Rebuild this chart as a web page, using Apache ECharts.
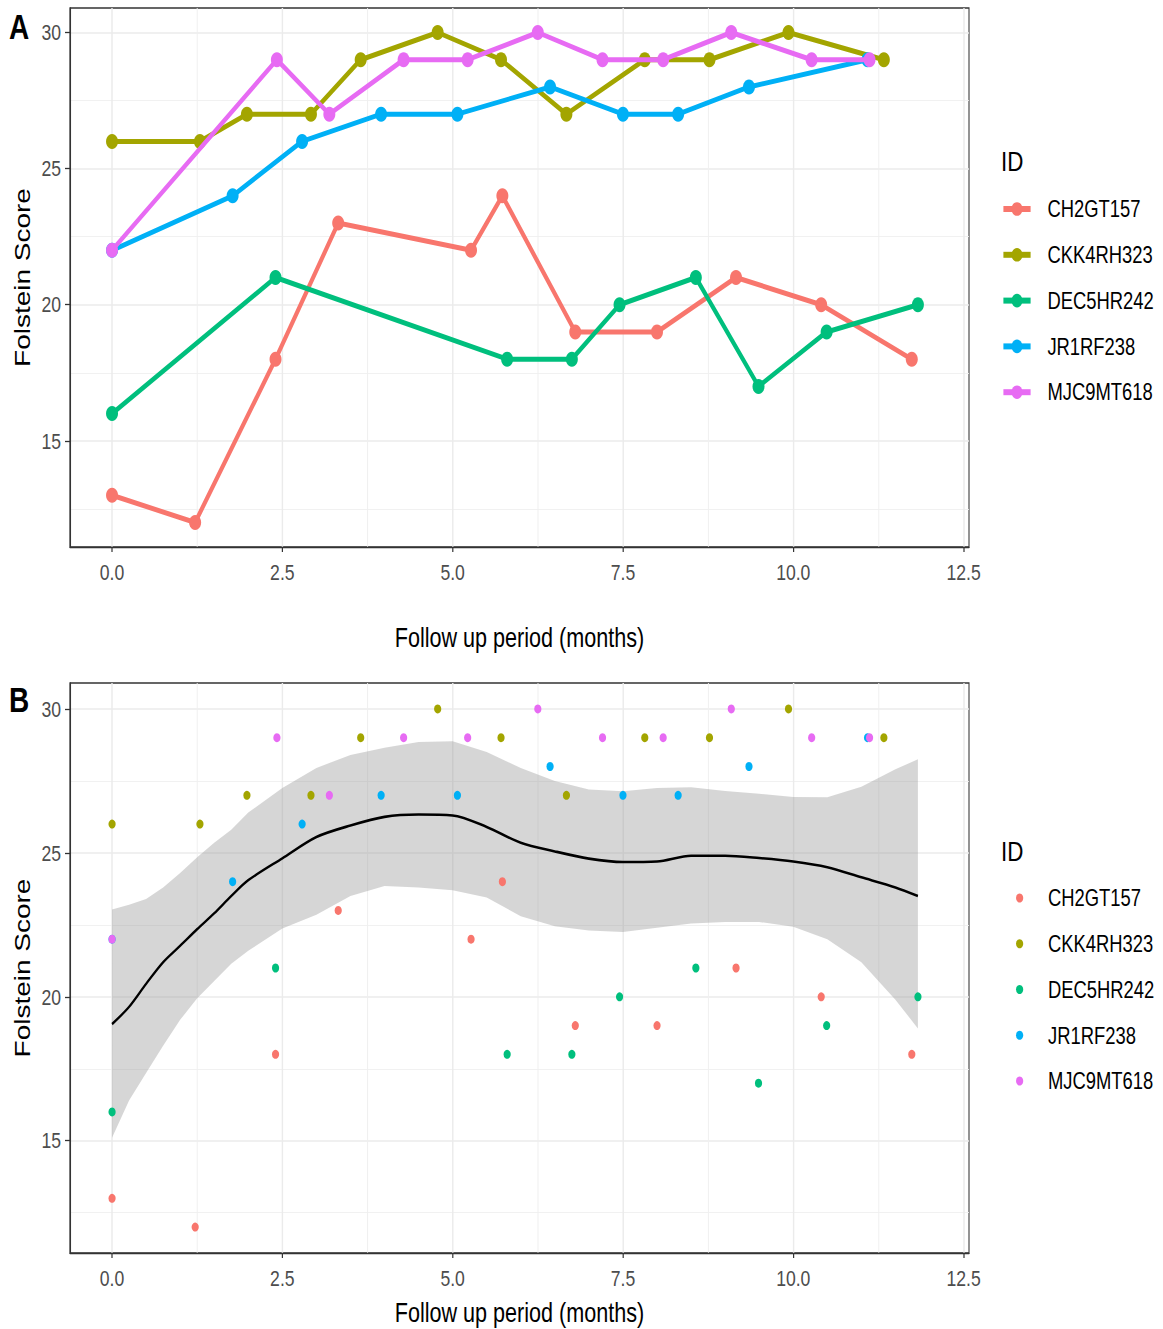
<!DOCTYPE html>
<html>
<head>
<meta charset="utf-8">
<script src="https://cdn.jsdelivr.net/npm/echarts@6/dist/echarts.min.js"></script>
<style>
  html, body { margin: 0; padding: 0; background: #ffffff; overflow: hidden; }
  #wrap { width: 1163px; height: 1329px; overflow: hidden; position: relative; }
  #chart { width: 1454px; height: 1329px; transform: scaleX(0.8); transform-origin: 0 0; position: absolute; left: 0; top: 0; }
</style>
</head>
<body>
<div id="wrap"><div id="chart"></div></div>
<script>
// ---------------- DATA ----------------
const IDS = ['CH2GT157', 'CKK4RH323', 'DEC5HR242', 'JR1RF238', 'MJC9MT618'];

const CH2GT157_MONTHS = [0, 1.22, 2.40, 3.32, 5.27, 5.73, 6.80, 8.00, 9.16, 10.41, 11.74];
const CH2GT157_SCORE  = [13, 12, 18, 23, 22, 24, 19, 19, 21, 20, 18];

const CKK4RH323_MONTHS = [0, 1.29, 1.98, 2.92, 3.65, 4.78, 5.71, 6.67, 7.82, 8.77, 9.93, 11.33];
const CKK4RH323_SCORE  = [26, 26, 27, 27, 29, 30, 29, 27, 29, 29, 30, 29];

const DEC5HR242_MONTHS = [0, 2.40, 5.80, 6.75, 7.45, 8.57, 9.49, 10.49, 11.83];
const DEC5HR242_SCORE  = [16, 21, 18, 18, 20, 21, 17, 19, 20];

const JR1RF238_MONTHS = [0, 1.77, 2.79, 3.95, 5.07, 6.43, 7.50, 8.31, 9.35, 11.09];
const JR1RF238_SCORE  = [22, 24, 26, 27, 27, 28, 27, 27, 28, 29];

const MJC9MT618_MONTHS = [0, 2.42, 3.19, 4.28, 5.22, 6.25, 7.20, 8.09, 9.09, 10.27, 11.12];
const MJC9MT618_SCORE  = [22, 29, 27, 29, 29, 30, 29, 29, 30, 29, 29];

// LOESS fit with confidence band
const SMOOTH_MONTHS = [0, 0.25, 0.5, 0.75, 1.0, 1.25, 1.5, 1.75, 2.0, 2.5, 3.0, 3.5, 4.0, 4.5, 5.0, 5.5, 6.0, 6.5, 7.0, 7.5, 8.0, 8.5, 9.0, 9.5, 10.0, 10.5, 11.0, 11.5, 11.83];
const SMOOTH_FIT   = [19.05, 19.65, 20.45, 21.2, 21.77, 22.35, 22.9, 23.5, 24.05, 24.81, 25.55, 25.95, 26.25, 26.33, 26.3, 25.9, 25.35, 25.05, 24.8, 24.68, 24.7, 24.9, 24.9, 24.82, 24.7, 24.5, 24.15, 23.8, 23.5];
const SMOOTH_UPPER = [23.03, 23.2, 23.4, 23.8, 24.3, 24.85, 25.35, 25.8, 26.4, 27.25, 27.95, 28.4, 28.65, 28.85, 28.88, 28.5, 27.95, 27.5, 27.2, 27.14, 27.25, 27.28, 27.15, 27.05, 26.94, 26.93, 27.3, 27.9, 28.25];
const SMOOTH_LOWER = [15.1, 16.4, 17.35, 18.3, 19.2, 19.95, 20.55, 21.15, 21.6, 22.37, 22.85, 23.5, 23.85, 23.8, 23.7, 23.45, 22.8, 22.45, 22.3, 22.25, 22.4, 22.55, 22.6, 22.6, 22.43, 22.0, 21.2, 19.9, 18.9];

const X_TICKS = [0, 2.5, 5, 7.5, 10, 12.5];
const X_MINOR = [1.25, 3.75, 6.25, 8.75, 11.25];
const Y_TICKS = [15, 20, 25, 30];
const Y_MINOR = [12.5, 17.5, 22.5, 27.5];

const X_TITLE = 'Follow up period (months)';
const Y_TITLE = 'Folstein Score';
const LEGEND_TITLE = 'ID';
const PANEL_TAGS = ['A', 'B'];

// ---------------- STYLE / LAYOUT ----------------
const COLORS = ['#F8766D', '#A3A500', '#00BF7D', '#00B0F6', '#E76BF3'];
const FONT = '"Liberation Sans", Arial, sans-serif';
const SQ = 0.8;                 // horizontal squeeze applied to the whole chart by CSS
const hx = v => v / SQ;         // reference horizontal pixels -> internal pixels
const XMIN = -0.617, XMAX = 12.58, YMIN = 11.1, YMAX = 30.9;

const SERIES_DATA = {
  CH2GT157: [CH2GT157_MONTHS, CH2GT157_SCORE],
  CKK4RH323: [CKK4RH323_MONTHS, CKK4RH323_SCORE],
  DEC5HR242: [DEC5HR242_MONTHS, DEC5HR242_SCORE],
  JR1RF238: [JR1RF238_MONTHS, JR1RF238_SCORE],
  MJC9MT618: [MJC9MT618_MONTHS, MJC9MT618_SCORE]
};
function pairs(xs, ys) { return xs.map((x, i) => [x, ys[i]]); }

const grids = [
  { left: hx(70), top: 8, width: hx(899), height: 539 },
  { left: hx(70), top: 683, width: hx(899), height: 570 }
].map(g => Object.assign(g, {
  show: true, borderColor: '#333333', borderWidth: 1.3, backgroundColor: 'transparent',
  containLabel: false, outerBoundsMode: 'none'
}));

function majorX(gi, nameGap) {
  return {
    type: 'value', gridIndex: gi, min: XMIN, max: XMAX, position: 'bottom',
    name: X_TITLE, nameLocation: 'middle', nameGap: nameGap, nameMoveOverlap: false,
    nameTextStyle: { fontFamily: FONT, fontSize: 27, color: '#000000' },
    axisLine: { show: true, onZero: false, lineStyle: { color: '#333333', width: 1.3 } },
    axisTick: { show: true, length: 5, customValues: X_TICKS, lineStyle: { color: '#333333', width: 1.5 } },
    axisLabel: { show: true, customValues: X_TICKS, margin: 14, fontFamily: FONT, fontSize: 22, color: '#4d4d4d',
      formatter: v => Number(v).toFixed(1) },
    splitLine: { show: true, lineStyle: { color: '#ebebeb', width: 1.8 } },
    minorTick: { show: false }, minorSplitLine: { show: false }
  };
}
function minorX(gi) {
  return {
    type: 'value', gridIndex: gi, min: XMIN, max: XMAX, position: 'top',
    axisLine: { show: false }, axisLabel: { show: false },
    axisTick: { show: false, customValues: X_MINOR },
    splitLine: { show: true, lineStyle: { color: '#efefef', width: 1.2 } }
  };
}
function majorY(gi) {
  return {
    type: 'value', gridIndex: gi, min: YMIN, max: YMAX, position: 'left',
    name: Y_TITLE, nameLocation: 'middle', nameGap: hx(37), nameMoveOverlap: false,
    nameTextStyle: { fontFamily: FONT, fontSize: 28, color: '#000000' },
    axisLine: { show: true, onZero: false, lineStyle: { color: '#333333', width: 1.6 } },
    axisTick: { show: true, length: hx(5), customValues: Y_TICKS, lineStyle: { color: '#333333', width: 1.3 } },
    axisLabel: { show: true, customValues: Y_TICKS, margin: hx(9), fontFamily: FONT, fontSize: 22, color: '#4d4d4d' },
    splitLine: { show: true, lineStyle: { color: '#ebebeb', width: 1.5 } },
    minorTick: { show: false }, minorSplitLine: { show: false }
  };
}
function minorY(gi) {
  return {
    type: 'value', gridIndex: gi, min: YMIN, max: YMAX, position: 'right',
    axisLine: { show: false }, axisLabel: { show: false },
    axisTick: { show: false, customValues: Y_MINOR },
    splitLine: { show: true, lineStyle: { color: '#efefef', width: 1 } }
  };
}

const series = [];
// Panel A: lines with points
IDS.forEach((id, k) => {
  const [xs, ys] = SERIES_DATA[id];
  series.push({
    name: id, type: 'line', xAxisIndex: 0, yAxisIndex: 0,
    data: pairs(xs, ys), symbol: 'circle', symbolSize: 15, showSymbol: true,
    color: COLORS[k], lineStyle: { width: 5, color: COLORS[k] }, itemStyle: { color: COLORS[k] },
    z: 3 + k, silent: true
  });
});
// Panel B: confidence band
series.push({
  name: 'band', type: 'custom', xAxisIndex: 2, yAxisIndex: 2,
  data: [[SMOOTH_MONTHS[0], SMOOTH_FIT[0]]], z: 2, silent: true,
  renderItem: function (params, api) {
    const pts = [];
    for (let i = 0; i < SMOOTH_MONTHS.length; i++) pts.push(api.coord([SMOOTH_MONTHS[i], SMOOTH_UPPER[i]]));
    for (let i = SMOOTH_MONTHS.length - 1; i >= 0; i--) pts.push(api.coord([SMOOTH_MONTHS[i], SMOOTH_LOWER[i]]));
    return { type: 'polygon', shape: { points: pts }, style: { fill: 'rgba(153,153,153,0.4)' } };
  }
});
// Panel B: fit line
series.push({
  name: 'loess', type: 'line', xAxisIndex: 2, yAxisIndex: 2,
  data: pairs(SMOOTH_MONTHS, SMOOTH_FIT), smooth: 0.3, symbol: 'none',
  lineStyle: { color: '#000000', width: 2.6 }, z: 3, silent: true
});
// Panel B: points
IDS.forEach((id, k) => {
  const [xs, ys] = SERIES_DATA[id];
  series.push({
    name: id, type: 'scatter', xAxisIndex: 2, yAxisIndex: 2,
    data: pairs(xs, ys), symbol: 'circle', symbolSize: 9,
    itemStyle: { color: COLORS[k], opacity: 1 }, z: 4 + k, silent: true
  });
});

const PAD_A = hx(1048) - hx(1004) - 34 - 5;
const textA = { fontFamily: FONT, fontSize: 23, color: '#000000', lineHeight: 24, padding: [0, 0, 0, PAD_A] };
const textB = { fontFamily: FONT, fontSize: 23, color: '#000000', lineHeight: 24, padding: [0, 0, 0, PAD_A - 2.5] };

const option = {
  animation: false,
  backgroundColor: '#ffffff',
  grid: grids,
  xAxis: [majorX(0, 77), minorX(0), majorX(1, 46), minorX(1)],
  yAxis: [majorY(0), minorY(0), majorY(1), minorY(1)],
  legend: [
    {
      orient: 'vertical', left: hx(997), top: 192, itemWidth: 34, itemHeight: 17, itemGap: 21.8,
      data: IDS, selectedMode: false, textStyle: textA,
      lineStyle: { width: 6 }
    },
    {
      orient: 'vertical', left: hx(1012), top: 881, itemWidth: 34, itemHeight: 9, itemGap: 21.75,
      data: IDS.map(n => ({ name: n, icon: 'circle' })), selectedMode: false, textStyle: textB
    }
  ],
  graphic: [
    { type: 'text', x: hx(9), y: 27, style: { text: PANEL_TAGS[0], fontFamily: FONT, fontWeight: 'bold', fontSize: 35, fill: '#000000', verticalAlign: 'middle' } },
    { type: 'text', x: hx(9), y: 700, style: { text: PANEL_TAGS[1], fontFamily: FONT, fontWeight: 'bold', fontSize: 35, fill: '#000000', verticalAlign: 'middle' } },
    { type: 'text', x: hx(1001), y: 161, style: { text: LEGEND_TITLE, fontFamily: FONT, fontSize: 28, fill: '#000000', verticalAlign: 'middle' } },
    { type: 'text', x: hx(1001), y: 851, style: { text: LEGEND_TITLE, fontFamily: FONT, fontSize: 28, fill: '#000000', verticalAlign: 'middle' } }
  ],
  series: series
};

const chart = echarts.init(document.getElementById('chart'), null, { renderer: 'svg' });
chart.setOption(option);
</script>
</body>
</html>
